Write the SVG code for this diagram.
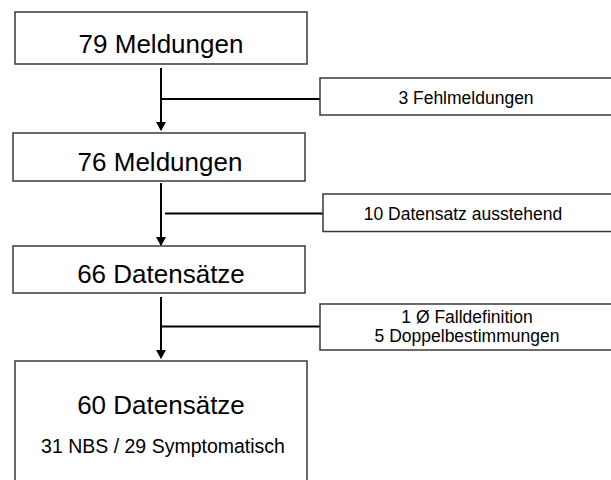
<svg xmlns="http://www.w3.org/2000/svg" width="611" height="480" viewBox="0 0 611 480">
  <style>
    .box { fill: #ffffff; stroke: #3a3a3a; stroke-width: 1.5; }
    .big { font-family: "Liberation Sans", Arial, sans-serif; font-size: 26px; fill: #000; text-anchor: middle; }
    .mid { font-family: "Liberation Sans", Arial, sans-serif; font-size: 19.5px; fill: #000; text-anchor: middle; }
    .small { font-family: "Liberation Sans", Arial, sans-serif; font-size: 17.5px; fill: #000; text-anchor: middle; }
    .conn { stroke: #000; stroke-width: 2; fill: none; }
  </style>
  <defs>
    <marker id="arrow" markerUnits="userSpaceOnUse" markerWidth="10" markerHeight="11" refX="8" refY="5" orient="auto">
      <path d="M0,0 L9,5 L0,10 z" fill="#000"/>
    </marker>
  </defs>

  <g id="connectors">
    <line class="conn" x1="161" y1="68" x2="161" y2="130" marker-end="url(#arrow)"/>
    <line class="conn" x1="161" y1="99" x2="320" y2="99"/>
    <line class="conn" x1="161" y1="183" x2="161" y2="245" marker-end="url(#arrow)"/>
    <line class="conn" x1="165" y1="213.5" x2="323" y2="213.5"/>
    <line class="conn" x1="161" y1="297" x2="161" y2="358" marker-end="url(#arrow)"/>
    <line class="conn" x1="161" y1="326.5" x2="320" y2="326.5"/>
  </g>

  <g id="node-79">
    <rect class="box" x="15" y="12" width="292" height="52"/>
    <text class="big" x="161" y="53">79 Meldungen</text>
  </g>

  <g id="node-fehl">
    <rect class="box" x="320" y="78" width="300" height="37"/>
    <text class="small" x="466" y="104">3 Fehlmeldungen</text>
  </g>

  <g id="node-76">
    <rect class="box" x="13" y="133" width="292" height="48"/>
    <text class="big" x="160" y="171">76 Meldungen</text>
  </g>

  <g id="node-ausstehend">
    <rect class="box" x="323" y="194" width="300" height="37.5"/>
    <text class="small" x="463" y="219.5">10 Datensatz ausstehend</text>
  </g>

  <g id="node-66">
    <rect class="box" x="13" y="246" width="292" height="47"/>
    <text class="big" x="161" y="283">66 Datensätze</text>
  </g>

  <g id="node-ausschluss">
    <rect class="box" x="320" y="304" width="300" height="46"/>
    <text class="small" x="467" y="322.5">1 Ø Falldefinition</text>
    <text class="small" x="467" y="342">5 Doppelbestimmungen</text>
  </g>

  <g id="node-60">
    <rect class="box" x="15" y="361" width="292" height="125"/>
    <text class="big" x="161" y="414">60 Datensätze</text>
    <text class="mid" x="163" y="453">31 NBS / 29 Symptomatisch</text>
  </g>
</svg>
